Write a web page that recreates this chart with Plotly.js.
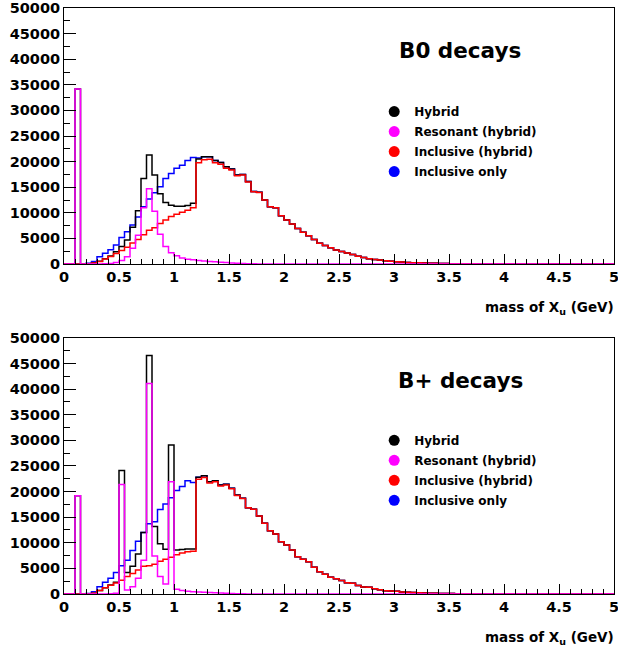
<!DOCTYPE html>
<html>
<head>
<meta charset="utf-8">
<script src="https://cdn.plot.ly/plotly-3.0.1.min.js"></script>
<style>
  html, body { margin: 0; padding: 0; background: #fff; }
  #chart { width: 618px; height: 651px; }
</style>
</head>
<body>
<div id="chart"></div>
<script>
// Histogram binning: 100 bins of 0.05 GeV from 0 to 5 GeV
const binWidth = 0.05;
const nBins = 100;

// ---- B0 decays ----
const hybridB0 = [
  0, 0, 34200, 0, 50, 250, 550, 1050, 1550, 2400,
  3400, 4700, 7200, 10400, 16700, 21300, 17400, 13700, 12000, 11500,
  11300, 11300, 11450, 11850, 20500, 20950, 20950, 20200, 19850, 19000,
  18550, 17400, 17500, 16100, 14150, 14000, 12500, 11200, 11000, 9450,
  8600, 7800, 6950, 6200, 5500, 4800, 4050, 3600, 3200, 2750,
  2450, 2150, 1850, 1500, 1250, 1050, 900, 780, 650, 530,
  450, 390, 320, 270, 230, 190, 160, 130, 110, 90,
  75, 60, 50, 40, 32, 25, 20, 15, 12, 9,
  6, 5, 4, 3, 2, 2, 1, 1, 0, 0,
  0, 0, 0, 0, 0, 0, 0, 0, 0, 0
];
const resonantB0 = [
  0, 0, 34200, 0, 0, 0, 20, 50, 100, 300,
  700, 1400, 3100, 5600, 11000, 14700, 10300, 5800, 3400, 2200,
  1600, 1200, 950, 850, 700, 600, 500, 420, 350, 280,
  200, 150, 100, 60, 30, 10, 0, 0, 0, 0,
  0, 0, 0, 0, 0, 0, 0, 0, 0, 0,
  0, 0, 0, 0, 0, 0, 0, 0, 0, 0,
  0, 0, 0, 0, 0, 0, 0, 0, 0, 0,
  0, 0, 0, 0, 0, 0, 0, 0, 0, 0,
  0, 0, 0, 0, 0, 0, 0, 0, 0, 0,
  0, 0, 0, 0, 0, 0, 0, 0, 0, 0
];
const inclHybridB0 = [
  0, 0, 0, 0, 30, 200, 500, 1000, 1450, 2050,
  2650, 3300, 4100, 4800, 5700, 6600, 7100, 7900, 8600, 9300,
  9700, 10100, 10500, 11000, 19800, 20350, 20450, 19780, 19500, 18720,
  18350, 17250, 17400, 16040, 14120, 13990, 12500, 11200, 11000, 9450,
  8600, 7800, 6950, 6200, 5500, 4800, 4050, 3600, 3200, 2750,
  2450, 2150, 1850, 1500, 1250, 1050, 900, 780, 650, 530,
  450, 390, 320, 270, 230, 190, 160, 130, 110, 90,
  75, 60, 50, 40, 32, 25, 20, 15, 12, 9,
  6, 5, 4, 3, 2, 2, 1, 1, 0, 0,
  0, 0, 0, 0, 0, 0, 0, 0, 0, 0
];
const inclOnlyB0 = [
  0, 0, 0, 0, 150, 500, 1400, 2100, 2800, 3700,
  5200, 6300, 7600, 9200, 11200, 12700, 13900, 15100, 16700, 17700,
  18700, 19300, 20200, 20800, 20700, 20950, 20950, 20200, 19850, 19000,
  18550, 17400, 17500, 16100, 14150, 14000, 12500, 11200, 11000, 9450,
  8600, 7800, 6950, 6200, 5500, 4800, 4050, 3600, 3200, 2750,
  2450, 2150, 1850, 1500, 1250, 1050, 900, 780, 650, 530,
  450, 390, 320, 270, 230, 190, 160, 130, 110, 90,
  75, 60, 50, 40, 32, 25, 20, 15, 12, 9,
  6, 5, 4, 3, 2, 2, 1, 1, 0, 0,
  0, 0, 0, 0, 0, 0, 0, 0, 0, 0
];

// ---- B+ decays ----
const hybridBp = [
  0, 0, 19200, 0, 0, 130, 700, 1200, 1750, 2300,
  24100, 4200, 5400, 7800, 12000, 46600, 13200, 9800, 8750, 29100,
  8600, 8700, 8800, 8800, 22800, 23100, 21940, 22130, 21290, 21420,
  20640, 19330, 18680, 16860, 16540, 15230, 13800, 12370, 11720, 10220,
  9570, 8590, 7290, 6770, 6310, 5210, 4360, 3840, 3260, 3000,
  2650, 2200, 2100, 1650, 1370, 1300, 1040, 850, 650, 590,
  520, 400, 330, 270, 230, 200, 165, 135, 110, 90,
  75, 60, 50, 40, 32, 25, 20, 15, 12, 9,
  6, 5, 4, 3, 2, 2, 1, 1, 0, 0,
  0, 0, 0, 0, 0, 0, 0, 0, 0, 0
];
const resonantBp = [
  0, 0, 19200, 0, 0, 0, 0, 0, 50, 150,
  21400, 800, 1400, 3100, 6600, 41100, 7400, 3400, 1950, 21900,
  950, 700, 550, 450, 400, 340, 280, 230, 180, 140,
  100, 70, 45, 25, 10, 0, 0, 0, 0, 0,
  0, 0, 0, 0, 0, 0, 0, 0, 0, 0,
  0, 0, 0, 0, 0, 0, 0, 0, 0, 0,
  0, 0, 0, 0, 0, 0, 0, 0, 0, 0,
  0, 0, 0, 0, 0, 0, 0, 0, 0, 0,
  0, 0, 0, 0, 0, 0, 0, 0, 0, 0,
  0, 0, 0, 0, 0, 0, 0, 0, 0, 0
];
const inclHybridBp = [
  0, 0, 0, 0, 0, 130, 700, 1200, 1700, 2150,
  2700, 3400, 4000, 4700, 5400, 5500, 5800, 6400, 6800, 7200,
  7650, 8000, 8250, 8350, 22400, 22760, 21660, 21900, 21110, 21280,
  20540, 19260, 18635, 16835, 16530, 15230, 13800, 12370, 11720, 10220,
  9570, 8590, 7290, 6770, 6310, 5210, 4360, 3840, 3260, 3000,
  2650, 2200, 2100, 1650, 1370, 1300, 1040, 850, 650, 590,
  520, 400, 330, 270, 230, 200, 165, 135, 110, 90,
  75, 60, 50, 40, 32, 25, 20, 15, 12, 9,
  6, 5, 4, 3, 2, 2, 1, 1, 0, 0,
  0, 0, 0, 0, 0, 0, 0, 0, 0, 0
];
const inclOnlyBp = [
  0, 0, 0, 0, 100, 450, 1430, 2300, 3100, 4200,
  5500, 6600, 8500, 10300, 12000, 13700, 14100, 16500, 17600, 18800,
  20200, 21000, 22100, 21800, 22800, 23100, 21940, 22130, 21290, 21420,
  20640, 19330, 18680, 16860, 16540, 15230, 13800, 12370, 11720, 10220,
  9570, 8590, 7290, 6770, 6310, 5210, 4360, 3840, 3260, 3000,
  2650, 2200, 2100, 1650, 1370, 1300, 1040, 850, 650, 590,
  520, 400, 330, 270, 230, 200, 165, 135, 110, 90,
  75, 60, 50, 40, 32, 25, 20, 15, 12, 9,
  6, 5, 4, 3, 2, 2, 1, 1, 0, 0,
  0, 0, 0, 0, 0, 0, 0, 0, 0, 0
];

const seriesNames = ["Hybrid", "Resonant (hybrid)", "Inclusive (hybrid)", "Inclusive only"];
const seriesColors = ["#000000", "#ff00ff", "#ff0000", "#0000ff"];
const yTickVals = [0, 5000, 10000, 15000, 20000, 25000, 30000, 35000, 40000, 45000, 50000];
const xTickVals = [0, 0.5, 1, 1.5, 2, 2.5, 3, 3.5, 4, 4.5, 5];

const FONT = "DejaVu Sans, sans-serif";

// Step outline of a histogram: left edge of every bin, plus the closing right edge
function stepTrace(counts, color, xa, ya) {
  const x = [], y = [];
  for (let i = 0; i < counts.length; i++) {
    x.push(i * binWidth);
    y.push(counts[i]);
  }
  x.push(counts.length * binWidth);
  y.push(counts[counts.length - 1]);
  return {
    type: "scatter", mode: "lines", x: x, y: y,
    line: { shape: "hv", color: color, width: 1.5 },
    xaxis: xa, yaxis: ya, showlegend: false, hoverinfo: "skip"
  };
}

// Marker-only entries used for the legends
function legendEntries(legendId, xa, ya) {
  return seriesNames.map((name, k) => ({
    type: "scatter", mode: "markers", x: [null], y: [null], name: name,
    marker: { color: seriesColors[k], size: 11, symbol: "circle" },
    xaxis: xa, yaxis: ya, legend: legendId, legendgroup: legendId + k,
    showlegend: true
  }));
}

const traces = [
  // B0 panel: blue, black, red, magenta drawn in that order
  stepTrace(inclOnlyB0, seriesColors[3], "x", "y"),
  stepTrace(hybridB0, seriesColors[0], "x", "y"),
  stepTrace(inclHybridB0, seriesColors[2], "x", "y"),
  stepTrace(resonantB0, seriesColors[1], "x", "y"),
  // B+ panel
  stepTrace(inclOnlyBp, seriesColors[3], "x2", "y2"),
  stepTrace(hybridBp, seriesColors[0], "x2", "y2"),
  stepTrace(inclHybridBp, seriesColors[2], "x2", "y2"),
  stepTrace(resonantBp, seriesColors[1], "x2", "y2"),
  ...legendEntries("legend", "x", "y"),
  ...legendEntries("legend2", "x2", "y2")
];

function xAxis(anchor) {
  return {
    anchor: anchor, domain: [0, 1], range: [0, 5],
    tickvals: xTickVals, ticks: "inside", ticklen: 10, tickwidth: 1, tickcolor: "#000",
    minor: { dtick: 0.1, tick0: 0, ticks: "inside", ticklen: 5, tickwidth: 1, tickcolor: "#000" },
    showline: true, linecolor: "#000", linewidth: 1, mirror: true,
    showgrid: false, zeroline: false, ticklabeloverflow: "allow",
    tickfont: { family: FONT, size: 14.5, color: "#000", weight: "bold" }
  };
}
function yAxis(anchor, domain) {
  return {
    anchor: anchor, domain: domain, range: [0, 50000],
    tickvals: yTickVals, tickformat: "d", ticks: "inside", ticklen: 12, tickwidth: 1, tickcolor: "#000",
    minor: { dtick: 2500, tick0: 0, ticks: "inside", ticklen: 6, tickwidth: 1, tickcolor: "#000" },
    showline: true, linecolor: "#000", linewidth: 1, mirror: true,
    showgrid: false, zeroline: false, ticklabeloverflow: "allow",
    tickfont: { family: FONT, size: 14.5, color: "#000", weight: "bold" }
  };
}

function legendBox(yPos) {
  return {
    x: 0.564, xanchor: "left", y: yPos, yanchor: "top",
    bgcolor: "rgba(0,0,0,0)", borderwidth: 0, tracegroupgap: 1,
    font: { family: FONT, size: 12, color: "#000", weight: "bold" }
  };
}

const layout = {
  width: 618, height: 651,
  margin: { l: 64, r: 4, t: 8, b: 57 },
  paper_bgcolor: "#fff", plot_bgcolor: "#fff",
  xaxis: xAxis("y"),
  yaxis: yAxis("x", [0.5631, 1]),
  xaxis2: xAxis("y2"),
  yaxis2: yAxis("x2", [0, 0.4369]),
  legend: legendBox(0.848),
  legend2: legendBox(0.287),
  annotations: [
    { text: "B0 decays", xref: "paper", yref: "paper", x: 0.72, y: 0.928,
      xanchor: "center", yanchor: "middle", showarrow: false,
      font: { family: FONT, size: 21.5, color: "#000", weight: "bold" } },
    { text: "B+ decays", xref: "paper", yref: "paper", x: 0.72, y: 0.3635,
      xanchor: "center", yanchor: "middle", showarrow: false,
      font: { family: FONT, size: 21.5, color: "#000", weight: "bold" } },
    { text: "mass of X<sub>u</sub> (GeV)", xref: "paper", yref: "paper", x: 1.003, y: 0.488,
      xanchor: "right", yanchor: "middle", showarrow: false,
      font: { family: FONT, size: 13.5, color: "#000", weight: "bold" } },
    { text: "mass of X<sub>u</sub> (GeV)", xref: "paper", yref: "paper", x: 1.003, y: -0.075,
      xanchor: "right", yanchor: "middle", showarrow: false,
      font: { family: FONT, size: 13.5, color: "#000", weight: "bold" } }
  ]
};

Plotly.newPlot("chart", traces, layout, { staticPlot: true, displayModeBar: false });
</script>
</body>
</html>
